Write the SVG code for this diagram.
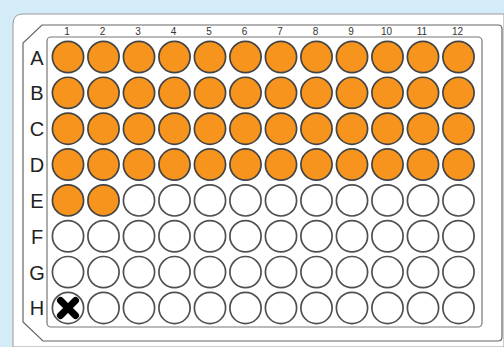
<svg xmlns="http://www.w3.org/2000/svg" width="504" height="347" viewBox="0 0 504 347">
<style>
.lbl{font-family:"Liberation Sans",Arial,sans-serif;font-size:20px;fill:#222;text-anchor:middle}
.num{font-family:"Liberation Sans",Arial,sans-serif;font-size:10px;fill:#333;text-anchor:middle}
.on{fill:#f7941d;stroke:#444;stroke-width:1.7}
.off{fill:#fff;stroke:#505050;stroke-width:1.7}
</style>
<rect width="504" height="347" fill="#d3ecf8"/>
<g id="plate">
<path d="M13,347 L13,24 Q13,14 23,14 L504,14 L504,347 Z" fill="#fff" stroke="#9a9a9a" stroke-width="1"/>
<path d="M42,25 L498,25 Q502,25 502,29 L502,337 Q502,341 498,341 L43,341 L23,322 L23,43 Z" fill="#fff" stroke="#666" stroke-width="1.2"/>
<rect x="47" y="37" width="435" height="290" rx="4" fill="#fff" stroke="#777" stroke-width="1.2"/>
</g>
<g id="col-labels">
<text class="num" x="67" y="35">1</text>
<text class="num" x="102.5" y="35">2</text>
<text class="num" x="138" y="35">3</text>
<text class="num" x="173.5" y="35">4</text>
<text class="num" x="209" y="35">5</text>
<text class="num" x="244.5" y="35">6</text>
<text class="num" x="280" y="35">7</text>
<text class="num" x="315.5" y="35">8</text>
<text class="num" x="351" y="35">9</text>
<text class="num" x="386.5" y="35">10</text>
<text class="num" x="422" y="35">11</text>
<text class="num" x="457.5" y="35">12</text>
</g>
<g id="row-labels">
<text class="lbl" x="37" y="64.5">A</text>
<text class="lbl" x="37" y="100.3">B</text>
<text class="lbl" x="37" y="136.2">C</text>
<text class="lbl" x="37" y="172">D</text>
<text class="lbl" x="37" y="207.9">E</text>
<text class="lbl" x="37" y="243.7">F</text>
<text class="lbl" x="37" y="279.6">G</text>
<text class="lbl" x="37" y="315.4">H</text>
</g>
<defs>
<circle id="w" r="15.6"/>
</defs>
<g id="wells-filled" class="on">
<g id="rowA">
<use href="#w" x="68" y="57"/><use href="#w" x="103.5" y="57"/><use href="#w" x="139" y="57"/><use href="#w" x="174.5" y="57"/><use href="#w" x="210" y="57"/><use href="#w" x="245.5" y="57"/><use href="#w" x="281" y="57"/><use href="#w" x="316.5" y="57"/><use href="#w" x="352" y="57"/><use href="#w" x="387.5" y="57"/><use href="#w" x="423" y="57"/><use href="#w" x="458.5" y="57"/>
</g>
<g id="rowB">
<use href="#w" x="68" y="92.85"/><use href="#w" x="103.5" y="92.85"/><use href="#w" x="139" y="92.85"/><use href="#w" x="174.5" y="92.85"/><use href="#w" x="210" y="92.85"/><use href="#w" x="245.5" y="92.85"/><use href="#w" x="281" y="92.85"/><use href="#w" x="316.5" y="92.85"/><use href="#w" x="352" y="92.85"/><use href="#w" x="387.5" y="92.85"/><use href="#w" x="423" y="92.85"/><use href="#w" x="458.5" y="92.85"/>
</g>
<g id="rowC">
<use href="#w" x="68" y="128.7"/><use href="#w" x="103.5" y="128.7"/><use href="#w" x="139" y="128.7"/><use href="#w" x="174.5" y="128.7"/><use href="#w" x="210" y="128.7"/><use href="#w" x="245.5" y="128.7"/><use href="#w" x="281" y="128.7"/><use href="#w" x="316.5" y="128.7"/><use href="#w" x="352" y="128.7"/><use href="#w" x="387.5" y="128.7"/><use href="#w" x="423" y="128.7"/><use href="#w" x="458.5" y="128.7"/>
</g>
<g id="rowD">
<use href="#w" x="68" y="164.55"/><use href="#w" x="103.5" y="164.55"/><use href="#w" x="139" y="164.55"/><use href="#w" x="174.5" y="164.55"/><use href="#w" x="210" y="164.55"/><use href="#w" x="245.5" y="164.55"/><use href="#w" x="281" y="164.55"/><use href="#w" x="316.5" y="164.55"/><use href="#w" x="352" y="164.55"/><use href="#w" x="387.5" y="164.55"/><use href="#w" x="423" y="164.55"/><use href="#w" x="458.5" y="164.55"/>
</g>
<g id="rowE-filled">
<use href="#w" x="68" y="200.4"/><use href="#w" x="103.5" y="200.4"/>
</g>
</g>
<g id="wells-empty" class="off">
<g id="rowE-empty">
<use href="#w" x="139" y="200.4"/><use href="#w" x="174.5" y="200.4"/><use href="#w" x="210" y="200.4"/><use href="#w" x="245.5" y="200.4"/><use href="#w" x="281" y="200.4"/><use href="#w" x="316.5" y="200.4"/><use href="#w" x="352" y="200.4"/><use href="#w" x="387.5" y="200.4"/><use href="#w" x="423" y="200.4"/><use href="#w" x="458.5" y="200.4"/>
</g>
<g id="rowF">
<use href="#w" x="68" y="236.25"/><use href="#w" x="103.5" y="236.25"/><use href="#w" x="139" y="236.25"/><use href="#w" x="174.5" y="236.25"/><use href="#w" x="210" y="236.25"/><use href="#w" x="245.5" y="236.25"/><use href="#w" x="281" y="236.25"/><use href="#w" x="316.5" y="236.25"/><use href="#w" x="352" y="236.25"/><use href="#w" x="387.5" y="236.25"/><use href="#w" x="423" y="236.25"/><use href="#w" x="458.5" y="236.25"/>
</g>
<g id="rowG">
<use href="#w" x="68" y="272.1"/><use href="#w" x="103.5" y="272.1"/><use href="#w" x="139" y="272.1"/><use href="#w" x="174.5" y="272.1"/><use href="#w" x="210" y="272.1"/><use href="#w" x="245.5" y="272.1"/><use href="#w" x="281" y="272.1"/><use href="#w" x="316.5" y="272.1"/><use href="#w" x="352" y="272.1"/><use href="#w" x="387.5" y="272.1"/><use href="#w" x="423" y="272.1"/><use href="#w" x="458.5" y="272.1"/>
</g>
<g id="rowH">
<use href="#w" x="68" y="307.95"/><use href="#w" x="103.5" y="307.95"/><use href="#w" x="139" y="307.95"/><use href="#w" x="174.5" y="307.95"/><use href="#w" x="210" y="307.95"/><use href="#w" x="245.5" y="307.95"/><use href="#w" x="281" y="307.95"/><use href="#w" x="316.5" y="307.95"/><use href="#w" x="352" y="307.95"/><use href="#w" x="387.5" y="307.95"/><use href="#w" x="423" y="307.95"/><use href="#w" x="458.5" y="307.95"/>
</g>
</g>
<g id="H1-mark" stroke="#000" stroke-width="7" stroke-linecap="round">
<line x1="60.5" y1="300.5" x2="75.5" y2="315.5"/>
<line x1="75.5" y1="300.5" x2="60.5" y2="315.5"/>
</g>
</svg>
